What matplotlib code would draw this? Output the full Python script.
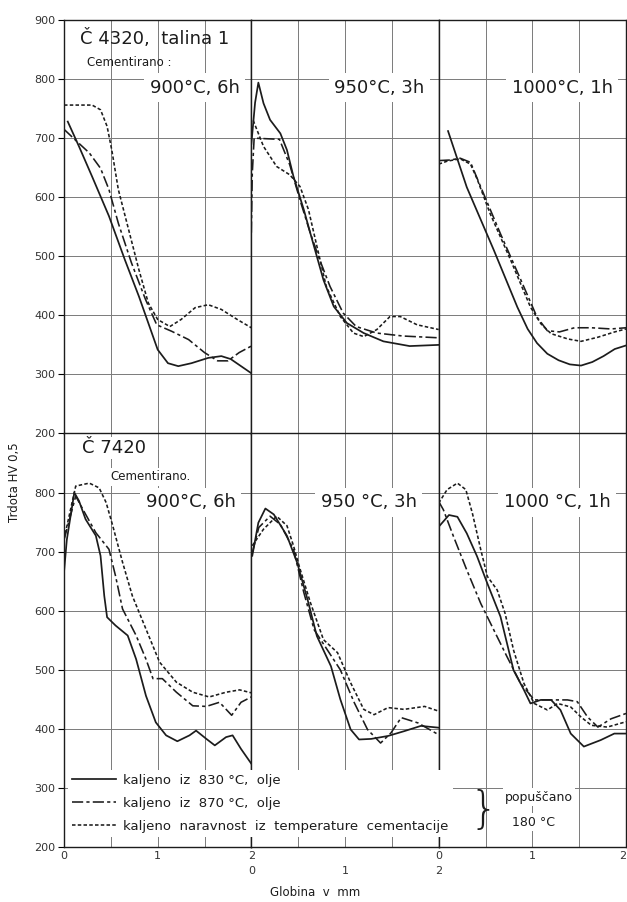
import numpy as np
import matplotlib
matplotlib.use("Agg")
import matplotlib.pyplot as plt
from matplotlib.lines import Line2D

plt.rcParams['font.family'] = ['DejaVu Sans']

# depth in mm (d_) and hardness HV 0,5 (hv_), a = C 4320, b = C 7420
# --- C 4320, 900 C 6h
d_a900_830 = [0.04, 0.16, 0.30, 0.48, 0.65, 0.80, 0.90, 1.00, 1.11, 1.22, 1.36, 1.54, 1.68, 1.78, 1.89, 2.0]
hv_a900_830 = [728, 686, 635, 568, 494, 432, 387, 342, 319, 314, 319, 328, 331, 326, 314, 302]
d_a900_870 = [0.0, 0.12, 0.27, 0.39, 0.48, 0.58, 0.72, 0.87, 0.99, 1.15, 1.33, 1.50, 1.64, 1.75, 1.87, 2.0]
hv_a900_870 = [715, 697, 675, 649, 613, 556, 489, 427, 384, 373, 359, 337, 323, 323, 337, 348]
d_a900_nat = [0.0, 0.30, 0.39, 0.46, 0.51, 0.58, 0.69, 0.80, 0.90, 1.0, 1.13, 1.25, 1.40, 1.54, 1.68, 1.85, 2.0]
hv_a900_nat = [756, 756, 748, 720, 680, 613, 545, 477, 421, 393, 381, 393, 413, 418, 410, 393, 379]
# --- C 4320, 950 C 3h
d_a950_830 = [0.0, 0.04, 0.075, 0.13, 0.20, 0.31, 0.38, 0.45, 0.56, 0.66, 0.77, 0.88, 1.02, 1.20, 1.41, 1.69, 2.0]
hv_a950_830 = [690, 760, 794, 759, 731, 708, 680, 635, 579, 522, 460, 415, 387, 370, 356, 348, 350]
d_a950_870 = [0.0, 0.01, 0.03, 0.30, 0.41, 0.52, 0.63, 0.73, 0.84, 0.98, 1.12, 1.34, 1.62, 2.0]
hv_a950_870 = [540, 640, 700, 698, 655, 595, 539, 494, 449, 404, 381, 370, 365, 362]
d_a950_nat = [0.02, 0.13, 0.27, 0.41, 0.52, 0.61, 0.70, 0.80, 0.95, 1.09, 1.20, 1.34, 1.48, 1.59, 1.77, 2.0]
hv_a950_nat = [730, 686, 652, 638, 618, 579, 517, 449, 398, 370, 364, 376, 398, 398, 384, 376]
# --- C 4320, 1000 C 1h
d_a1000_830 = [0.10, 0.30, 0.59, 0.84, 0.95, 1.05, 1.16, 1.28, 1.40, 1.52, 1.64, 1.76, 1.88, 2.0]
hv_a1000_830 = [712, 617, 510, 414, 377, 353, 335, 324, 317, 315, 321, 331, 343, 349]
d_a1000_870 = [0.0, 0.125, 0.23, 0.34, 0.45, 0.66, 0.88, 1.05, 1.16, 1.29, 1.45, 1.63, 1.84, 2.0]
hv_a1000_870 = [662, 663, 666, 659, 617, 538, 459, 397, 374, 372, 379, 379, 377, 379]
d_a1000_nat = [0.0, 0.09, 0.23, 0.34, 0.41, 0.55, 0.77, 0.98, 1.09, 1.20, 1.38, 1.52, 1.70, 1.88, 2.0]
hv_a1000_nat = [656, 661, 665, 656, 631, 572, 493, 414, 386, 369, 360, 356, 363, 372, 377]
# --- C 7420, 900 C 6h
d_b900_830 = [0.0, 0.03, 0.11, 0.16, 0.23, 0.34, 0.39, 0.43, 0.46, 0.55, 0.68, 0.77, 0.875, 0.98,
              1.09, 1.21, 1.34, 1.41, 1.52, 1.61, 1.73, 1.80, 1.89, 2.0]
hv_b900_830 = [665, 720, 800, 786, 755, 727, 693, 625, 589, 575, 558, 518, 456, 411,
               389, 379, 389, 397, 383, 372, 386, 389, 366, 341]
d_b900_870 = [0.0, 0.125, 0.2, 0.34, 0.48, 0.55, 0.625, 0.77, 0.875, 0.95, 1.05, 1.2, 1.375, 1.52, 1.66, 1.79, 1.89, 2.0]
hv_b900_870 = [720, 794, 772, 732, 704, 659, 603, 558, 518, 485, 485, 462, 439, 438, 445, 423, 445, 454]
d_b900_nat = [0.0, 0.125, 0.27, 0.375, 0.45, 0.52, 0.625, 0.73, 0.875, 1.02, 1.2, 1.375, 1.55, 1.73, 1.875, 2.0]
hv_b900_nat = [721, 811, 816, 808, 783, 744, 682, 625, 569, 513, 479, 462, 454, 462, 466, 461]
# --- C 7420, 950 C 3h
d_b950_830 = [0.01, 0.075, 0.15, 0.24, 0.38, 0.49, 0.60, 0.70, 0.85, 0.95, 1.06, 1.15, 1.28, 1.46, 1.63, 1.81, 2.0]
hv_b950_830 = [693, 749, 773, 763, 727, 681, 619, 557, 506, 450, 399, 382, 383, 388, 396, 405, 402]
d_b950_870 = [0.01, 0.08, 0.2, 0.31, 0.45, 0.56, 0.67, 0.81, 0.95, 1.10, 1.24, 1.38, 1.49, 1.6, 1.78, 2.0]
hv_b950_870 = [698, 741, 760, 746, 704, 631, 568, 534, 500, 444, 399, 376, 393, 419, 410, 390]
d_b950_nat = [0.01, 0.13, 0.27, 0.38, 0.45, 0.51, 0.63, 0.77, 0.92, 1.06, 1.20, 1.31, 1.46, 1.63, 1.85, 2.0]
hv_b950_nat = [710, 738, 760, 744, 710, 676, 614, 551, 529, 478, 433, 424, 436, 433, 438, 430]
# --- C 7420, 1000 C 1h
d_b1000_830 = [0.0, 0.11, 0.2, 0.3, 0.41, 0.52, 0.66, 0.80, 0.91, 0.98, 1.09, 1.2, 1.30, 1.41, 1.55, 1.73, 1.875, 2.0]
hv_b1000_830 = [742, 762, 759, 731, 692, 646, 590, 499, 466, 443, 449, 449, 432, 392, 370, 381, 392, 392]
d_b1000_870 = [0.0, 0.05, 0.16, 0.30, 0.45, 0.59, 0.73, 0.875, 1.02, 1.125, 1.27, 1.375, 1.48, 1.59, 1.70, 1.84, 2.0]
hv_b1000_870 = [785, 771, 725, 669, 612, 567, 522, 477, 449, 449, 449, 449, 446, 420, 403, 417, 426]
d_b1000_nat = [0.0, 0.09, 0.2, 0.29, 0.36, 0.45, 0.52, 0.625, 0.71, 0.80, 0.91, 1.02, 1.16, 1.27, 1.41, 1.52, 1.63, 1.80, 2.0]
hv_b1000_nat = [782, 805, 816, 805, 765, 703, 658, 635, 595, 533, 477, 443, 432, 443, 437, 420, 406, 403, 412]

panels_top = [(d_a900_830, hv_a900_830, d_a900_870, hv_a900_870, d_a900_nat, hv_a900_nat),
              (d_a950_830, hv_a950_830, d_a950_870, hv_a950_870, d_a950_nat, hv_a950_nat),
              (d_a1000_830, hv_a1000_830, d_a1000_870, hv_a1000_870, d_a1000_nat, hv_a1000_nat)]
panels_bot = [(d_b900_830, hv_b900_830, d_b900_870, hv_b900_870, d_b900_nat, hv_b900_nat),
              (d_b950_830, hv_b950_830, d_b950_870, hv_b950_870, d_b950_nat, hv_b950_nat),
              (d_b1000_830, hv_b1000_830, d_b1000_870, hv_b1000_870, d_b1000_nat, hv_b1000_nat)]

titles_top = ["900°C, 6h", "950°C, 3h", "1000°C, 1h"]
titles_bot = ["900°C, 6h", "950 °C, 3h", "1000 °C, 1h"]
legend_labels = ["kaljeno  iz  830 °C,  olje",
                 "kaljeno  iz  870 °C,  olje",
                 "kaljeno  naravnost  iz  temperature  cementacije"]

ink = '#1c1c1c'
gridc = '#7a7a7a'
dd_870 = (7, 2, 2, 2)
dd_nat = (2.2, 1.4)

W, H = 627, 902
fig = plt.figure(figsize=(W / 100, H / 100), dpi=100)

x0, x1 = 64, 626
y_top, y_mid, y_bot = 20, 433.5, 847
cw = (x1 - x0) / 3

def make_ax(col, top_px, bot_px):
    ax = fig.add_axes([(x0 + col * cw) / W, 1 - bot_px / H, cw / W, (bot_px - top_px) / H])
    ax.set_xlim(0, 2)
    ax.set_ylim(200, 900)
    ax.set_xticks([0, 1, 2])
    ax.set_xticks([0.5, 1.5], minor=True)
    ax.set_yticks(range(200, 1000, 100))
    ax.grid(True, which='both', color=gridc, lw=0.7)
    for s in ax.spines.values():
        s.set_color(ink)
        s.set_linewidth(1.0)
    ax.tick_params(which='both', length=0, labelsize=8, labelcolor='#333333')
    return ax

def draw(ax, data):
    d1, h1, d2, h2, d3, h3 = data
    ax.plot(d1, h1, color=ink, lw=1.25, solid_joinstyle='round', zorder=3)
    ax.plot(d2, h2, color=ink, lw=1.15, dashes=dd_870, zorder=3)
    ax.plot(d3, h3, color=ink, lw=1.15, dashes=dd_nat, zorder=3)

wbox = dict(facecolor='white', edgecolor='none', pad=1.5)

axes_top = []
axes_bot = []
for c in range(3):
    at = make_ax(c, y_top, y_mid)
    ab = make_ax(c, y_mid, y_bot)
    draw(at, panels_top[c])
    draw(ab, panels_bot[c])
    at.tick_params(labelbottom=False)
    if c == 0:
        at.tick_params(axis='y', length=4, direction='out', pad=2)
        ab.tick_params(axis='y', length=4, direction='out', pad=2)
        ab.set_yticks(range(200, 900, 100))
        ab.set_yticks([900], minor=True)
    else:
        at.tick_params(labelleft=False)
        ab.tick_params(labelleft=False)
    ab.tick_params(axis='x', pad=14 if c == 1 else 3)
    axes_top.append(at)
    axes_bot.append(ab)

# last depth label sits at the right edge of the figure
axes_bot[2].set_xticks([0, 1, 2], ['0', '1', '2'])
axes_bot[2].get_xticklabels()[2].set_horizontalalignment('right')

# blank area behind the heading in the first panel
axes_top[0].axhspan(804, 900, xmax=0.985, color='white', zorder=1)

axes_top[0].text(0.085, 0.956, "Č 4320,  talina 1", transform=axes_top[0].transAxes,
                 fontsize=13, color=ink, va='center', ha='left', zorder=4)
axes_top[0].text(0.125, 0.898, "Cementirano :", transform=axes_top[0].transAxes,
                 fontsize=8.5, color=ink, va='center', ha='left', zorder=4)
axes_bot[0].text(0.096, 0.965, "Č 7420", transform=axes_bot[0].transAxes,
                 fontsize=13, color=ink, va='center', ha='left', zorder=4, bbox=wbox)
axes_bot[0].text(0.245, 0.895, "Cementirano.", transform=axes_bot[0].transAxes,
                 fontsize=8.5, color=ink, va='center', ha='left', zorder=4, bbox=wbox)

tx_top = [0.698, 0.683, 0.659]
tx_bot = [0.676, 0.626, 0.632]
for c in range(3):
    axes_top[c].text(tx_top[c], 0.836, titles_top[c], transform=axes_top[c].transAxes,
                     fontsize=13, color=ink, va='center', ha='center', zorder=4,
                     bbox=dict(facecolor='white', edgecolor='none', pad=4))
    axes_bot[c].text(tx_bot[c], 0.834, titles_bot[c], transform=axes_bot[c].transAxes,
                     fontsize=13, color=ink, va='center', ha='center', zorder=4,
                     bbox=dict(facecolor='white', edgecolor='none', pad=4))

handles = [Line2D([], [], color=ink, lw=1.25),
           Line2D([], [], color=ink, lw=1.15, dashes=dd_870),
           Line2D([], [], color=ink, lw=1.15, dashes=dd_nat)]
leg = fig.legend(handles, legend_labels, loc='upper left', bbox_to_anchor=(68 / W, 1 - 770 / H),
                 fontsize=9.5, frameon=True, handlelength=3.3, handletextpad=0.6,
                 labelspacing=0.75, borderpad=0.3, borderaxespad=0)
leg.get_frame().set_facecolor('white')
leg.get_frame().set_edgecolor('none')
leg.get_frame().set_alpha(1)
for t in leg.get_texts():
    t.set_color(ink)

fig.text(484 / W, 1 - 810 / H, "}", fontsize=32, color=ink, ha='center', va='center', fontweight='light')
fig.text(539 / W, 1 - 797 / H, "popuščano", fontsize=9, color=ink, ha='center', va='center', bbox=wbox)
fig.text(534 / W, 1 - 822 / H, "180 °C", fontsize=9, color=ink, ha='center', va='center', bbox=wbox)

fig.text(15 / W, 1 - 482 / H, "Trdota HV 0,5", fontsize=8.5, color=ink, rotation=90, ha='center', va='center')
fig.text(315 / W, 1 - 893 / H, "Globina  v  mm", fontsize=8.5, color=ink, ha='center', va='center')

fig.savefig("out.png", dpi=100, facecolor='white')
